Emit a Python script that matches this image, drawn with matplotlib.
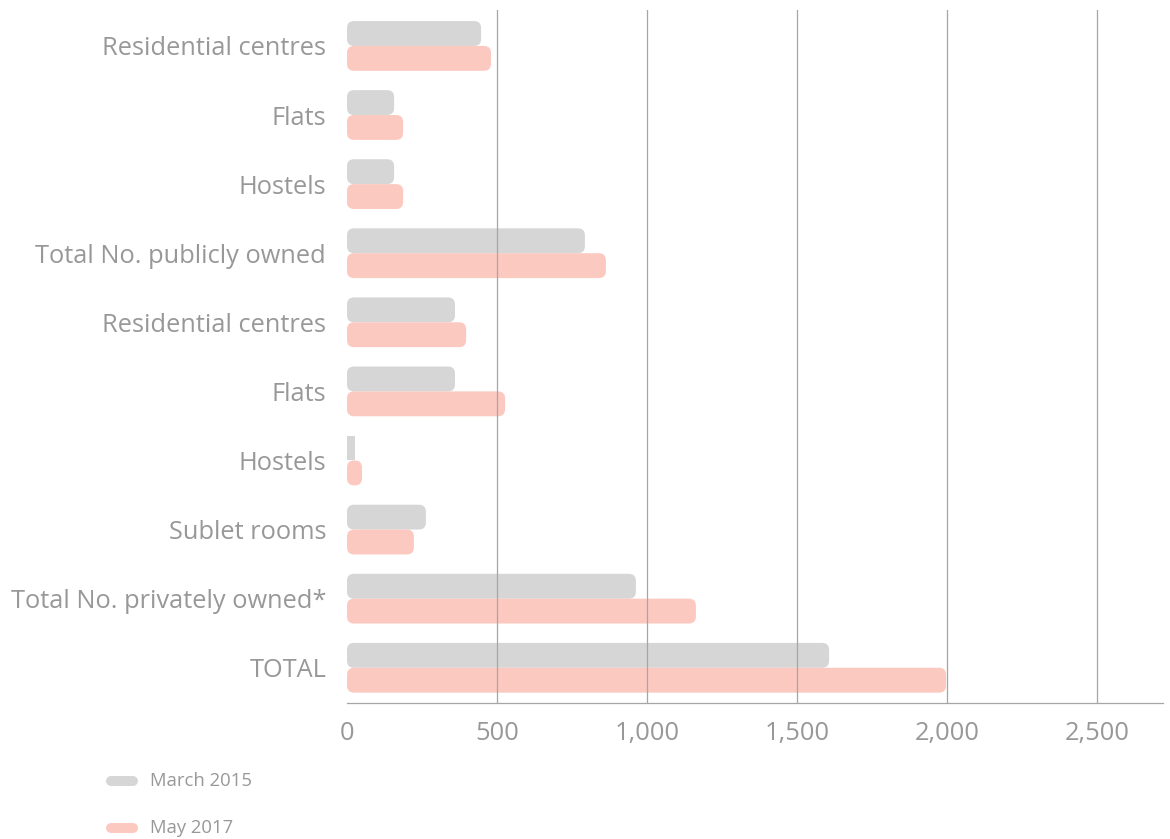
import numpy as np
import matplotlib.pyplot as plt
from matplotlib.patches import FancyBboxPatch
from matplotlib.lines import Line2D

plt.rcParams['font.family'] = ['Open Sans', 'DejaVu Sans']

# Data
categories = ['Residential centres', 'Flats', 'Hostels', 'Total No. publicly owned',
              'Residential centres', 'Flats', 'Hostels', 'Sublet rooms',
              'Total No. privately owned*', 'TOTAL']
march_2015 = [447, 157, 157, 793, 360, 360, 27, 263, 963, 1607]
may_2017 = [480, 187, 187, 863, 397, 527, 50, 223, 1163, 1997]
series_names = ['March 2015', 'May 2017']
colors = ['#d6d6d6', '#fbc9c0']
xticks = [0, 500, 1000, 1500, 2000, 2500]

text_grey = '#989898'
line_grey = '#a6a6a6'

fig = plt.figure(figsize=(11.7, 8.39), dpi=100)
W, H = 1170, 839
ax = fig.add_axes([347 / W, (H - 703) / H, (1163 - 347) / W, (703 - 10) / H])

xmax = 2720
ax.set_xlim(0, xmax)
ax.set_ylim(9.51, -0.52)

bh = 0.36
# pixels per data unit, for rounding corners evenly
px_x = (1163 - 347) / xmax
px_y = (703 - 10) / (9.51 + 0.52)
r_px = 7
y = np.arange(len(categories))

def rounded_bar(ax, x0, yc, w, h, color):
    if w * px_x < 2 * r_px:
        # too short to round
        ax.add_patch(plt.Rectangle((x0, yc - h / 2), w, h, color=color, lw=0, zorder=2))
        return
    rx = r_px / px_x
    aspect = (r_px / px_y) / rx
    p = FancyBboxPatch((x0, yc - h / 2), w, h,
                       boxstyle=f'round,pad=0,rounding_size={rx}',
                       mutation_aspect=aspect, fc=color, ec='none', zorder=2)
    ax.add_patch(p)

for i in range(len(categories)):
    rounded_bar(ax, 0, y[i] - bh / 2, march_2015[i], bh, colors[0])
    rounded_bar(ax, 0, y[i] + bh / 2, may_2017[i], bh, colors[1])

# gridlines drawn over the bars
for t in xticks[1:]:
    ax.axvline(t, color=line_grey, lw=0.9, zorder=3)

ax.set_yticks(y)
ax.set_yticklabels(categories, fontsize=18.3, color=text_grey)
ax.set_xticks(xticks)
ax.set_xticklabels([f'{t:,}' for t in xticks], fontsize=18.4, color=text_grey)
ax.tick_params(axis='y', length=0, pad=15)
ax.tick_params(axis='x', length=0, pad=13)

for s in ['top', 'right', 'left']:
    ax.spines[s].set_visible(False)
ax.spines['bottom'].set_color(line_grey)
ax.spines['bottom'].set_linewidth(0.9)
ax.spines['bottom'].set_zorder(3)

# Legend
for name, c, ypx in zip(series_names, colors, [781, 828]):
    yf = (H - ypx) / H
    fig.add_artist(Line2D([111 / W, 133 / W], [yf, yf], transform=fig.transFigure,
                          color=c, lw=7.2, solid_capstyle='round'))
    fig.text(150 / W, yf, name, fontsize=13.3, color=text_grey, va='center', ha='left')

fig.savefig('out.png', dpi=100)
